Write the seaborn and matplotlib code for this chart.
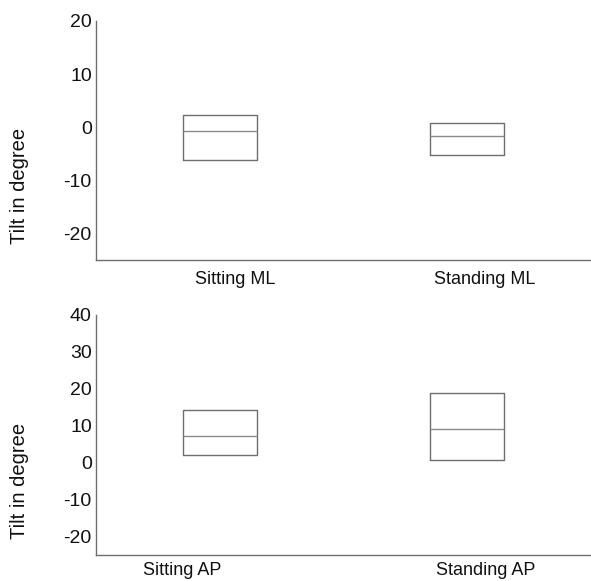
import pandas as pd
import matplotlib.pyplot as plt
import matplotlib.transforms as mtransforms
import seaborn as sns

# quartiles
ml_labels = ["Sitting ML", "Standing ML"]
ml_q1 = [-6.1, -5.3]
ml_median = [-0.8, -1.6]
ml_q3 = [2.3, 0.7]

ap_labels = ["Sitting AP", "Standing AP"]
ap_q1 = [2.0, 0.6]
ap_median = [7.3, 9.1]
ap_q3 = [14.2, 18.8]

ml_ticks = [-20, -10, 0, 10, 20]
ap_ticks = [-20, -10, 0, 10, 20, 30, 40]

sns.set_style("white")
plt.rcParams['font.family'] = ['Liberation Sans', 'DejaVu Sans']
plt.rcParams['axes.unicode_minus'] = False

LINE = '#6e6e6e'


def build(labels, q1, med, q3):
    # 5 points per group -> quartiles hit exactly, whiskers collapse onto box
    rows = []
    for lab, a, m, b in zip(labels, q1, med, q3):
        for v in [a, a, m, b, b]:
            rows.append({"cond": lab, "tilt": v})
    return pd.DataFrame(rows)


def draw(ax, df, ticks, ylim, xpad, shifts):
    sns.boxplot(data=df, x='cond', y='tilt', ax=ax, width=0.3, fill=False,
                color=LINE, linewidth=1, whis=0, showcaps=False,
                showfliers=False, medianprops={'color': '#8a8a8a'})
    ax.set_xlim(-0.5, 1.5)
    ax.set_ylim(*ylim)
    ax.set_yticks(ticks)
    ax.set_xlabel('')
    ax.set_ylabel('Tilt in degree', fontsize=14.5, color='#111111')
    ax.yaxis.set_label_coords(-0.136, 0.31)
    ax.tick_params(axis='y', direction='in', length=3, color=LINE,
                   labelsize=14, pad=3, labelcolor='#111111')
    ax.tick_params(axis='x', length=0, labelsize=13, pad=xpad,
                   labelcolor='#111111')
    # the x labels in the original sit a bit off the box centres
    for lab, dx in zip(ax.get_xticklabels(), shifts):
        off = mtransforms.ScaledTranslation(dx / 100, 0, fig.dpi_scale_trans)
        lab.set_transform(lab.get_transform() + off)
    for s in ['top', 'right']:
        ax.spines[s].set_visible(False)
    for s in ['left', 'bottom']:
        ax.spines[s].set_color(LINE)
        ax.spines[s].set_linewidth(1)
    ax.spines['left'].set_bounds(ylim[0], ticks[-1])


fig = plt.figure(figsize=(5.91, 5.81), dpi=100)
ax1 = fig.add_axes([0.1624, 0.5525, 0.8376, 0.4115])
ax2 = fig.add_axes([0.1624, 0.0448, 0.8376, 0.4132])

draw(ax1, build(ml_labels, ml_q1, ml_median, ml_q3), ml_ticks, (-25, 20),
     8, [15, 17])
draw(ax2, build(ap_labels, ap_q1, ap_median, ap_q3), ap_ticks, (-25, 40),
     5, [-38, 18])

fig.savefig('out.png', dpi=100)
